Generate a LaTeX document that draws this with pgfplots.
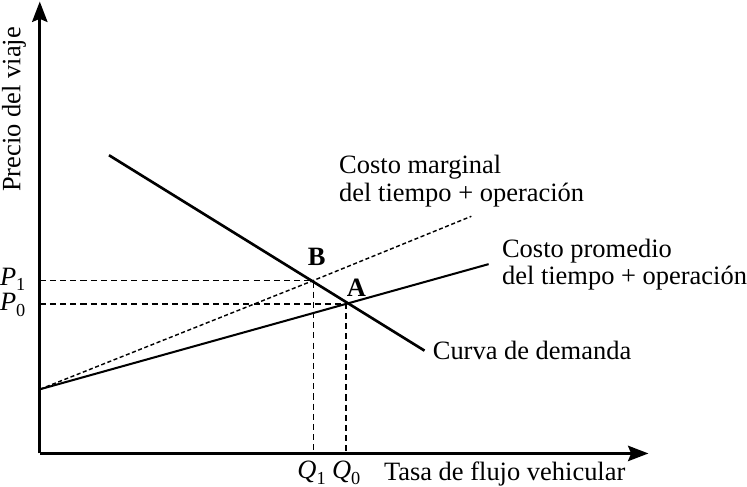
\documentclass[border=0pt]{standalone}
\usepackage{fontspec}
\setmainfont{Liberation Serif}
\usepackage{pgfplots}
\pgfplotsset{compat=1.18}
\usetikzlibrary{arrows.meta}

% italic letter with a lowered subscript digit
\newcommand\sub[2]{\textit{#1}\raisebox{-0.2em}{\fontsize{18bp}{18bp}\selectfont #2}}
\tikzset{lbl/.style={font=\fontsize{26bp}{30bp}\selectfont, inner sep=0pt}}

\begin{document}
\begin{tikzpicture}
\begin{axis}[scale only axis, width=747bp, height=494bp,
  xmin=0, xmax=747, ymin=0, ymax=494, y dir=reverse,
  hide axis, clip=false]

% axes
\addplot[line width=3bp, -{Stealth[length=20bp,width=15bp,inset=3bp]}] coordinates {(49,456) (49,12)};
\addplot[line width=3bp, -{Stealth[length=20bp,width=15bp,inset=3bp]}] coordinates {(49,456) (647,456)};

% guide lines
\addplot[line width=1.4bp, dash pattern=on 6bp off 4bp] coordinates {(49,286) (318,286) (318,456)};
\addplot[line width=1.4bp, dash pattern=on 6bp off 4bp] coordinates {(49,309) (350,309) (350,456)};

% demand
\addplot[line width=2.6bp] coordinates {(117,163) (427,355)};
% average cost
\addplot[line width=2bp] coordinates {(49,393) (490,270)};
% marginal cost
\addplot[line width=1.4bp, dash pattern=on 4bp off 2.5bp] coordinates {(49,393) (318,286) (473,223)};

% labels
\node[lbl, rotate=90, anchor=base] at (axis cs:30,118) {Precio del viaje};
\node[lbl, anchor=base east] at (axis cs:35,291) {\sub{P}{1}};
\node[lbl, anchor=base east] at (axis cs:35,316) {\sub{P}{0}};
\node[lbl, anchor=base] at (axis cs:316,481) {\sub{Q}{1}};
\node[lbl, anchor=base] at (axis cs:350,481) {\sub{Q}{0}};
\node[lbl, anchor=base west] at (axis cs:387,483) {Tasa de flujo vehicular};
\node[lbl, anchor=base] at (axis cs:321,271) {\textbf{B}};
\node[lbl, anchor=base] at (axis cs:360,302) {\textbf{A}};
\node[lbl, anchor=base west] at (axis cs:343,181) {Costo marginal};
\node[lbl, anchor=base west] at (axis cs:343,208) {del tiempo + operación};
\node[lbl, anchor=base west] at (axis cs:503,263) {Costo promedio};
\node[lbl, anchor=base west] at (axis cs:503,290) {del tiempo + operación};
\node[lbl, anchor=base west] at (axis cs:435,364) {Curva de demanda};
\end{axis}
\end{tikzpicture}
\end{document}
